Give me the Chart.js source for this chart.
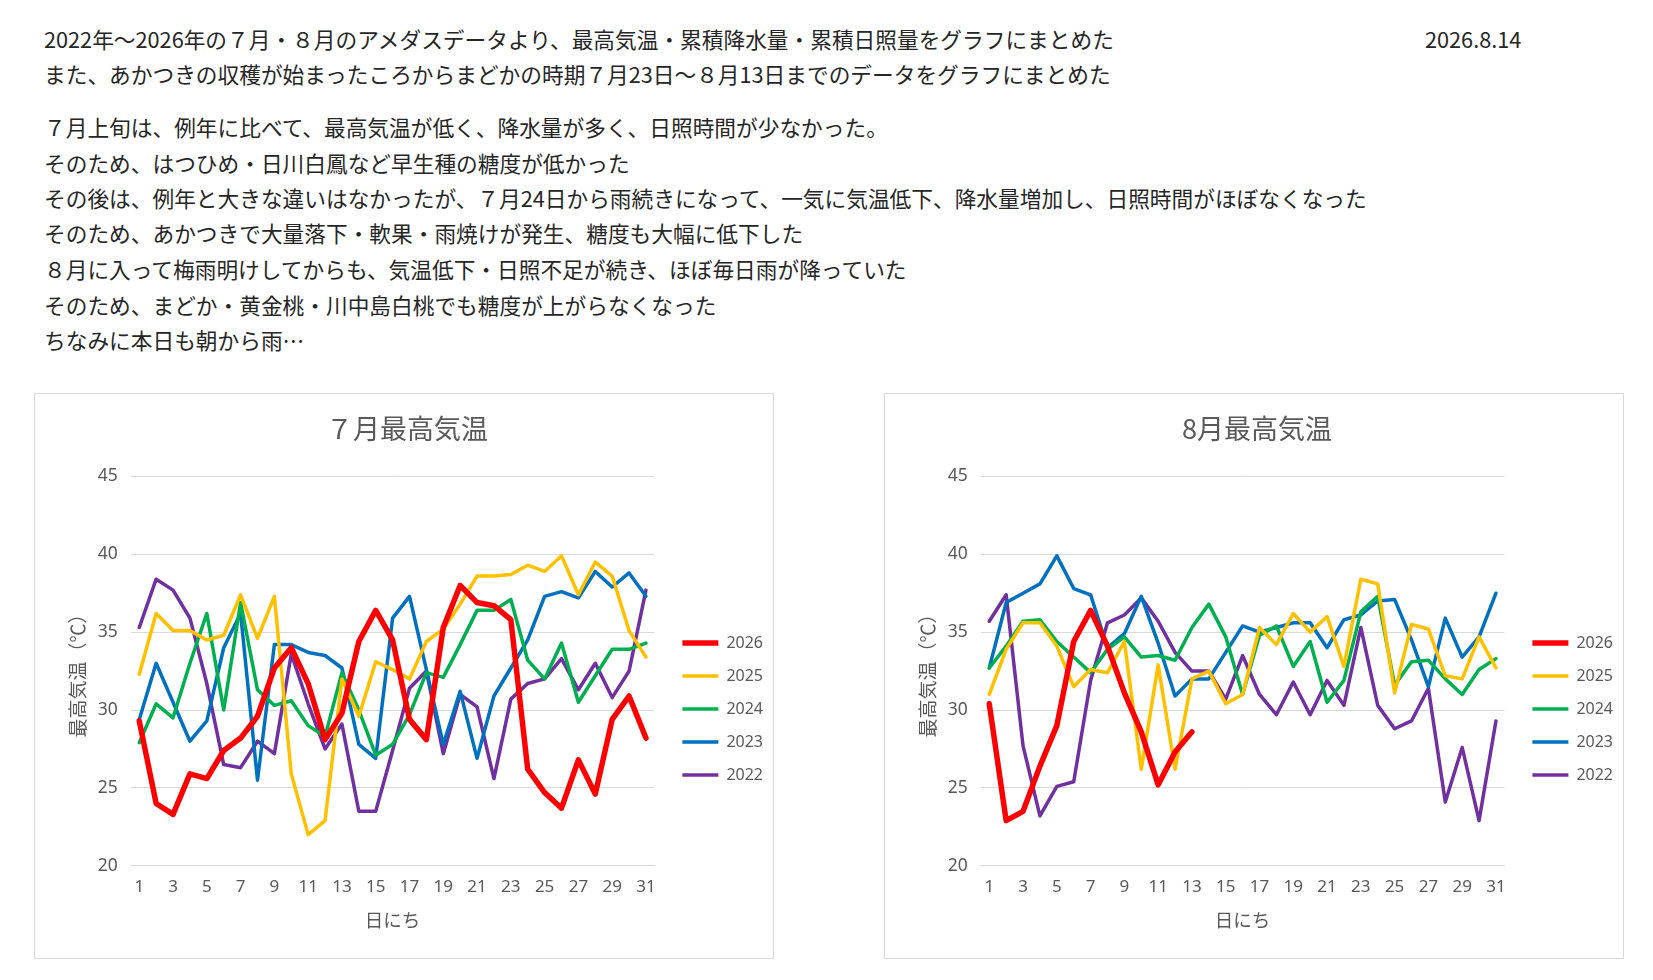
<!DOCTYPE html>
<html lang="ja">
<head>
<meta charset="utf-8">
<script src="https://cdn.jsdelivr.net/npm/chart.js@4.4.1/dist/chart.umd.min.js"></script>
<style>
  body { margin: 0; background: #fff; width: 1653px; height: 980px; position: relative; overflow: hidden;
         font-family: "Noto Sans CJK JP", sans-serif; color: #262626; }
  .t { position: absolute; left: 44px; font-size: 21.7px; line-height: 30px; white-space: nowrap; }
  .date { position: absolute; left: 1425px; top: 24px; font-size: 21.7px; line-height: 30px; }
  .box { position: absolute; top: 393px; width: 740px; height: 566px; border: 1px solid #d9d9d9; box-sizing: border-box; }
  .box div { position: absolute; left: 0; top: 0; width: 738px; height: 564px; }
</style>
</head>
<body>
<div class="t" style="top:24px">2022年～2026年の７月・８月のアメダスデータより、最高気温・累積降水量・累積日照量をグラフにまとめた</div>
<div class="date">2026.8.14</div>
<div class="t" style="top:59px">また、あかつきの収穫が始まったころからまどかの時期７月23日～８月13日までのデータをグラフにまとめた</div>
<div class="t" style="top:112px">７月上旬は、例年に比べて、最高気温が低く、降水量が多く、日照時間が少なかった。</div>
<div class="t" style="top:148px">そのため、はつひめ・日川白鳳など早生種の糖度が低かった</div>
<div class="t" style="top:183px">その後は、例年と大きな違いはなかったが、７月24日から雨続きになって、一気に気温低下、降水量増加し、日照時間がほぼなくなった</div>
<div class="t" style="top:218px">そのため、あかつきで大量落下・軟果・雨焼けが発生、糖度も大幅に低下した</div>
<div class="t" style="top:254px">８月に入って梅雨明けしてからも、気温低下・日照不足が続き、ほぼ毎日雨が降っていた</div>
<div class="t" style="top:290px">そのため、まどか・黄金桃・川中島白桃でも糖度が上がらなくなった</div>
<div class="t" style="top:325px">ちなみに本日も朝から雨…</div>

<div class="box" style="left:34px"><div><canvas id="julyChart"></canvas></div></div>
<div class="box" style="left:884px"><div><canvas id="augChart"></canvas></div></div>

<script>
// days 1..31
var days = [];
for (var d = 1; d <= 31; d++) days.push(String(d));

var years = ['2026', '2025', '2024', '2023', '2022'];
var colors = ['#FF0000', '#FFC000', '#00B050', '#0070C0', '#7030A0'];

// 7月 最高気温
var jul2026 = [29.3, 24.0, 23.3, 25.9, 25.6, 27.4, 28.2, 29.6, 32.7, 34.0, 31.7, 28.1, 29.8, 34.4, 36.4, 34.5,
  29.4, 28.1, 35.3, 38.0, 36.9, 36.7, 35.8, 26.2, 24.7, 23.7, 26.8, 24.6, 29.4, 30.9, 28.2];
var jul2025 = [32.3, 36.2, 35.1, 35.1, 34.5, 34.8, 37.4, 34.6, 37.3, 25.9, 22.0, 22.9, 32.0, 29.6, 33.1, 32.6,
  32.0, 34.4, 35.2, 36.8, 38.6, 38.6, 38.7, 39.3, 38.9, 39.9, 37.4, 39.5, 38.6, 35.1, 33.4];
var jul2024 = [27.9, 30.4, 29.5, 33.0, 36.2, 30.0, 36.9, 31.3, 30.3, 30.6, 29.0, 28.3, 32.4, 30.0, 27.1, 27.8,
  29.7, 32.4, 32.1, 34.2, 36.4, 36.4, 37.1, 33.2, 32.0, 34.3, 30.5, 32.2, 33.9, 33.9, 34.3];
var jul2023 = [29.4, 33.0, 30.5, 28.0, 29.3, 34.0, 36.2, 25.5, 34.2, 34.2, 33.7, 33.5, 32.7, 27.8, 26.9, 35.9,
  37.3, 32.6, 27.8, 31.2, 26.9, 30.9, 32.7, 34.5, 37.3, 37.6, 37.2, 38.9, 37.9, 38.8, 37.3];
var jul2022 = [35.3, 38.4, 37.7, 35.9, 31.7, 26.5, 26.3, 28.0, 27.2, 33.6, 30.4, 27.5, 29.1, 23.5, 23.5, 27.4,
  31.4, 32.5, 27.2, 31.0, 30.2, 25.6, 30.7, 31.7, 32.0, 33.3, 31.3, 33.0, 30.8, 32.5, 37.7];

// 8月 最高気温 (2026は13日まで)
var aug2026 = [30.4, 22.9, 23.5, 26.4, 29.0, 34.4, 36.4, 34.1, 31.1, 28.6, 25.2, 27.3, 28.6];
var aug2025 = [31.0, 33.9, 35.6, 35.6, 34.1, 31.5, 32.6, 32.4, 34.4, 26.2, 32.9, 26.2, 32.0, 32.5, 30.4, 31.0,
  35.3, 34.2, 36.2, 35.0, 36.0, 32.8, 38.4, 38.1, 31.1, 35.5, 35.2, 32.2, 32.0, 34.7, 32.7];
var aug2024 = [32.7, 34.1, 35.7, 35.8, 34.4, 33.4, 32.4, 33.9, 34.7, 33.4, 33.5, 33.2, 35.3, 36.8, 34.7, 31.0,
  34.8, 35.4, 32.8, 34.4, 30.5, 31.9, 36.3, 37.3, 31.6, 33.1, 33.2, 32.0, 31.0, 32.6, 33.3];
var aug2023 = [32.7, 36.9, 37.5, 38.1, 39.9, 37.8, 37.4, 34.0, 34.9, 37.3, 34.3, 30.9, 32.0, 32.0, 33.7, 35.4,
  35.0, 35.3, 35.6, 35.6, 34.0, 35.8, 36.1, 37.0, 37.1, 34.5, 31.5, 35.9, 33.4, 34.7, 37.5];
var aug2022 = [35.7, 37.4, 27.7, 23.2, 25.1, 25.4, 31.9, 35.6, 36.1, 37.2, 35.7, 33.7, 32.5, 32.5, 30.7, 33.5,
  31.0, 29.7, 31.8, 29.7, 31.9, 30.3, 35.3, 30.3, 28.8, 29.3, 31.4, 24.1, 27.6, 22.9, 29.3];

var grey = '#595959';
var jp = "'Noto Sans CJK JP', sans-serif";
Chart.defaults.font.family = "'Noto Sans', 'Noto Sans CJK JP', sans-serif";
Chart.defaults.color = grey;

function makeChart(id, title, series) {
  var datasets = series.map(function (vals, i) {
    return {
      label: years[i],
      data: vals,
      borderColor: colors[i],
      backgroundColor: colors[i],
      borderWidth: i === 0 ? 5.5 : 3.5,
      borderCapStyle: 'round',
      borderJoinStyle: 'round',
      pointRadius: 0,
      tension: 0
    };
  });
  return new Chart(document.getElementById(id), {
    type: 'line',
    data: { labels: days, datasets: datasets },
    options: {
      responsive: true,
      maintainAspectRatio: false,
      animation: false,
      layout: { padding: { left: 6, right: 0, bottom: 16, top: 0 } },
      plugins: {
        title: {
          display: true,
          text: title,
          color: grey,
          font: { size: 27, weight: 'normal', family: jp },
          padding: { top: 19, bottom: 31 }
        },
        legend: {
          position: 'right',
          title: { display: true, text: ' ', font: { size: 16 }, padding: { top: 63, bottom: 0 } },
          labels: {
            usePointStyle: true,
            pointStyle: 'line',
            pointStyleWidth: 36,
            color: grey,
            font: { size: 16 },
            padding: 17
          }
        },
        tooltip: { enabled: false }
      },
      scales: {
        x: {
          offset: true,
          grid: { display: false, drawTicks: false },
          border: { display: true, color: '#d9d9d9' },
          ticks: {
            autoSkip: false,
            maxRotation: 0,
            padding: 13,
            font: { size: 17, lineHeight: 1 },
            callback: function (v, i) { return i % 2 === 0 ? days[i] : ''; }
          },
          title: { display: true, text: '日にち', color: grey, font: { size: 18.5, family: jp }, padding: { top: 0, bottom: 11 } }
        },
        y: {
          min: 20,
          max: 45,
          grid: { color: '#d9d9d9', drawTicks: false },
          border: { display: false },
          ticks: { stepSize: 5, padding: 13, font: { size: 17.5 } },
          title: { display: true, text: '最高気温（℃）', color: grey, font: { size: 19, family: jp }, padding: { top: 25, bottom: -4 } }
        },
        // empty spacer between plot and legend
        gap: {
          type: 'linear',
          position: 'right',
          display: true,
          grid: { display: false, drawTicks: false },
          border: { display: false },
          ticks: { display: false },
          afterFit: function (s) { s.width = 11; }
        }
      }
    }
  });
}

makeChart('julyChart', '７月最高気温', [jul2026, jul2025, jul2024, jul2023, jul2022]);
makeChart('augChart', '8月最高気温', [aug2026, aug2025, aug2024, aug2023, aug2022]);
</script>
</body>
</html>
